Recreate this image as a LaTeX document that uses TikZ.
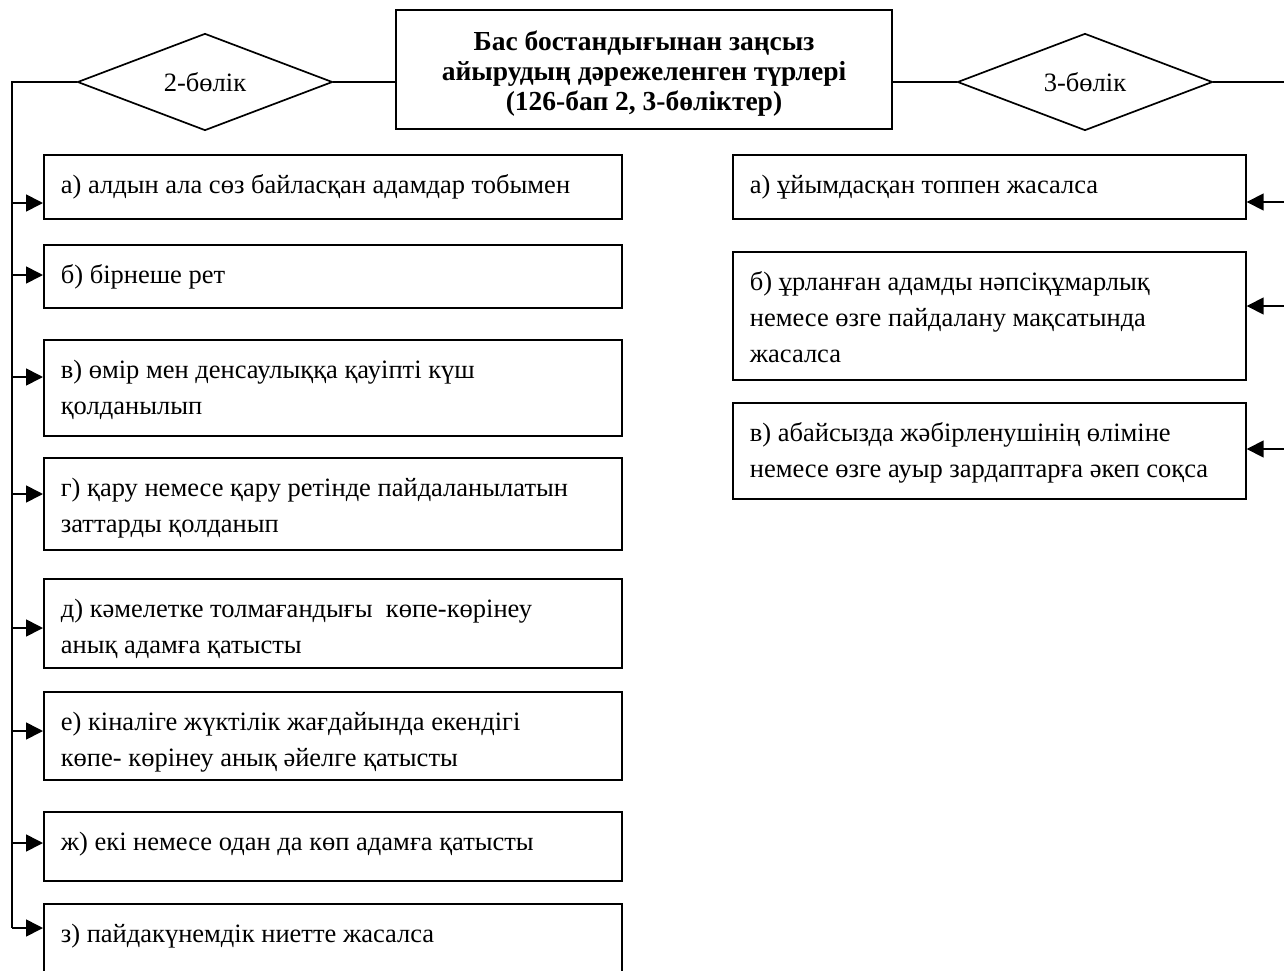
\documentclass[tikz,border=0pt]{standalone}
\usepackage{fontspec}
\setmainfont{Liberation Serif}
\usetikzlibrary{shapes.geometric,arrows.meta}
\newcommand\btxt[3]{\parbox[c][#2pt][t]{#1pt}{\raggedright\rule{0pt}{39pt}#3}}
\begin{document}
\begin{tikzpicture}[x=1pt,y=-1pt,
  ln/.style={line width=1.7pt},
  arr/.style={ln,-{Triangle[length=17pt 0 0,width=17pt 0]}},
  tbox/.style={draw,ln,anchor=north west,inner sep=0pt,font=\fontsize{26.5}{36}\selectfont},
  dia/.style={draw,ln,diamond,aspect=2.63,inner sep=0pt,minimum width=255pt,minimum height=97pt,font=\fontsize{26.5}{36}\selectfont}]
\useasboundingbox (0,0) rectangle (1284,971);
\clip (0,0) rectangle (1284,971);
% title and diamonds
\node[draw,ln,minimum width=496pt,minimum height=119pt,align=center,
  font=\bfseries\fontsize{27.5}{30}\selectfont] (t) at (644,69.5)
  {\rule{0pt}{28pt}Бас бостандығынан заңсыз\\айырудың дәрежеленген түрлері\\(126-бап 2, 3-бөліктер)};
\node[dia] (d2) at (205,82) {2-бөлік};
\node[dia] (d3) at (1085,82) {3-бөлік};
% left boxes
\node[tbox,minimum width=578pt] (la) at (43,154) {\btxt{544}{64}{а) алдын ала сөз байласқан адамдар тобымен}};
\node[tbox,minimum width=578pt] (lb) at (43,244) {\btxt{544}{63}{б) бірнеше рет}};
\node[tbox,minimum width=578pt] (lv) at (43,339) {\btxt{544}{96}{в) өмір мен денсаулыққа қауіпті күш\\қолданылып}};
\node[tbox,minimum width=578pt] (lg) at (43,457) {\btxt{544}{92}{г) қару немесе қару ретінде пайдаланылатын\\заттарды қолданып}};
\node[tbox,minimum width=578pt] (ld) at (43,578) {\btxt{544}{89}{д) кәмелетке толмағандығы\ \ көпе-көрінеу\\анық адамға қатысты}};
\node[tbox,minimum width=578pt] (le) at (43,691) {\btxt{544}{88}{е) кіналіге жүктілік жағдайында екендігі\\көпе- көрінеу анық әйелге қатысты}};
\node[tbox,minimum width=578pt] (lzh) at (43,811) {\btxt{544}{69}{ж) екі немесе одан да көп адамға қатысты}};
\node[tbox,minimum width=578pt] (lz) at (43,903) {\btxt{544}{100}{з) пайдакүнемдік ниетте жасалса}};
% right boxes
\node[tbox,minimum width=513pt] (ra) at (732,154) {\btxt{479}{64}{а) ұйымдасқан топпен жасалса}};
\node[tbox,minimum width=513pt] (rb) at (732,251) {\btxt{479}{128}{б) ұрланған адамды нәпсіқұмарлық\\немесе өзге пайдалану мақсатында\\жасалса}};
\node[tbox,minimum width=513pt] (rv) at (732,402) {\btxt{479}{96}{в) абайсызда жәбірленушінің өліміне\\немесе өзге ауыр зардаптарға әкеп соқса}};
% entry points
\coordinate (ila) at (la.west |- 0,203);
\coordinate (ilb) at (lb.west |- 0,275);
\coordinate (ilv) at (lv.west |- 0,377);
\coordinate (ilg) at (lg.west |- 0,494);
\coordinate (ild) at (ld.west |- 0,628);
\coordinate (ile) at (le.west |- 0,731);
\coordinate (ilzh) at (lzh.west |- 0,843);
\coordinate (ilz) at (lz.west |- 0,928);
\coordinate (ira) at (ra.east |- 0,202);
\coordinate (irb) at (rb.east |- 0,306);
\coordinate (irv) at (rv.east |- 0,449);
\coordinate (lbus) at (12,928);
\coordinate (rbus) at (1295,449);
% connectors
\draw[ln] (d2.east) -- (d2.east -| t.west);
\draw[ln] (t.east |- d3.west) -- (d3.west);
\draw[ln] (d2.west) -| (lbus);
\draw[ln] (d3.east) -| (rbus);
\foreach \p in {ila,ilb,ilv,ilg,ild,ile,ilzh,ilz}
  \draw[arr] (\p -| lbus) -- (\p);
\foreach \p in {ira,irb,irv}
  \draw[arr] (\p -| rbus) -- (\p);
\end{tikzpicture}
\end{document}
